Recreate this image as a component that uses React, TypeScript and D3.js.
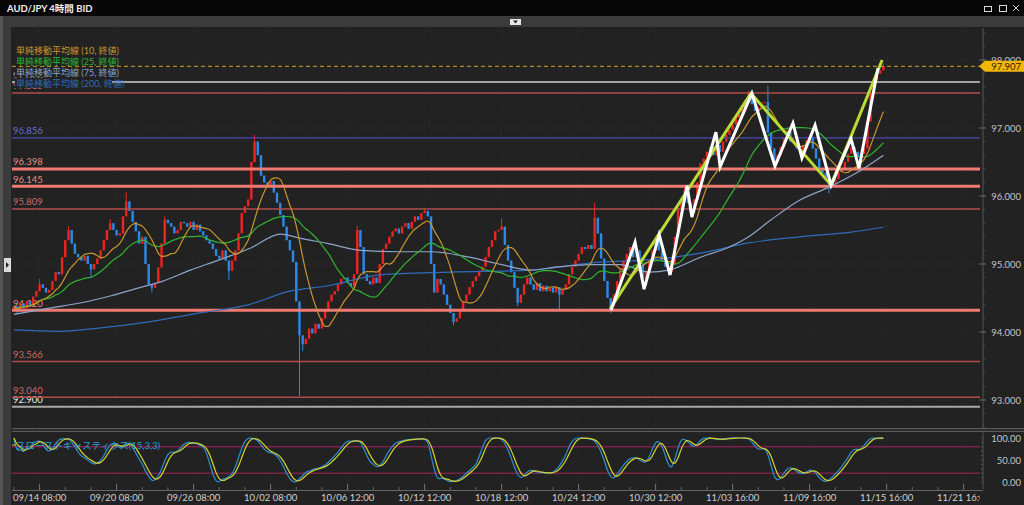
import React from 'react';
import * as d3 from 'd3';

// ---------- DATA ----------
const firstOpen = 94.33;
const closes: number[] = [
  94.38, 94.30, 94.42, 94.35, 94.45, 94.40, 94.52, 94.60, 94.70, 94.65,
  94.58, 94.62, 94.75, 94.88, 94.85, 95.10, 95.35, 95.50, 95.30, 95.15,
  95.10, 95.05, 95.12, 95.00, 94.92, 95.00, 95.08, 95.20, 95.35, 95.50,
  95.60, 95.50, 95.42, 95.45, 95.70, 95.92, 95.78, 95.62, 95.48, 95.30,
  95.40, 95.00, 94.70, 94.65, 94.72, 94.95, 95.30, 95.65, 95.60, 95.55,
  95.45, 95.50, 95.62, 95.60, 95.55, 95.62, 95.50, 95.58, 95.48, 95.42,
  95.35, 95.30, 95.22, 95.12, 95.08, 95.20, 95.05, 94.90, 95.05, 95.20,
  95.45, 95.75, 95.85, 95.95, 96.50, 96.80, 96.60, 96.30, 96.20, 96.15,
  96.22, 96.05, 95.90, 95.72, 95.55, 95.35, 95.20, 95.03, 94.45, 93.95,
  93.82, 93.90, 94.05, 93.98, 94.12, 94.05, 94.20, 94.32, 94.45, 94.55,
  94.60, 94.70, 94.78, 94.80, 94.72, 94.67, 94.85, 95.50, 95.25, 94.85,
  94.75, 94.70, 94.80, 94.72, 95.00, 95.22, 95.30, 95.40, 95.48, 95.52,
  95.45, 95.55, 95.60, 95.52, 95.62, 95.70, 95.65, 95.75, 95.78, 95.70,
  95.00, 94.58, 94.78, 94.70, 94.55, 94.40, 94.28, 94.15, 94.20, 94.32,
  94.45, 94.55, 94.66, 94.75, 94.82, 94.90, 94.96, 95.10, 95.25, 95.35,
  95.48, 95.50, 95.55, 95.28, 95.05, 94.88, 94.65, 94.43, 94.55, 94.70,
  94.80, 94.70, 94.62, 94.72, 94.60, 94.68, 94.60, 94.65, 94.58, 94.66,
  94.55, 94.62, 94.70, 94.85, 94.96, 95.05, 95.15, 95.25, 95.22, 95.28,
  95.22, 95.68, 95.45, 95.08, 94.75, 94.50, 94.38, 94.55, 94.75, 94.92,
  95.05, 95.15, 95.25, 95.10, 95.20, 95.00, 94.78, 94.90, 95.05, 95.20,
  95.35, 95.20, 95.05, 94.96, 94.88, 95.00, 95.40, 95.82, 95.95, 96.08,
  95.90, 95.75, 95.95, 96.20, 96.48, 96.55, 96.65, 96.72, 96.60, 96.75,
  96.65, 96.80, 96.90, 96.97, 97.05, 97.15, 97.22, 97.30, 97.40, 97.50,
  97.35, 97.25, 97.30, 97.37, 97.38, 96.93, 96.70, 96.50, 96.60, 96.72,
  96.85, 96.95, 96.80, 96.78, 96.70, 96.68, 96.75, 96.82, 96.87, 96.70,
  96.55, 96.40, 96.34, 96.25, 96.18, 96.20, 96.25, 96.35, 96.40, 96.50,
  96.62, 96.72, 96.65, 96.58, 96.62, 96.70, 97.10, 97.50, 97.70, 97.80,
  97.85, 97.907,
];
const wickHighs: [number, number][] = [
  [8, 94.78], [17, 95.56], [30, 95.66], [35, 96.05], [47, 95.70], [75, 96.90],
  [107, 95.56], [128, 95.82], [152, 95.67], [181, 95.90], [207, 95.88],
  [209, 96.14], [229, 97.55], [235, 97.62], [241, 97.0], [271, 97.95],
];
const wickLows: [number, number][] = [
  [1, 94.26], [24, 94.80], [43, 94.58], [67, 94.76], [89, 93.06], [90, 93.72],
  [137, 94.10], [157, 94.38], [170, 94.32], [186, 94.28], [204, 94.82],
  [254, 96.04],
];
const sma75Pts: [number, number][] = [
  [0, 94.26], [11, 94.35], [21, 94.43], [30, 94.53], [39, 94.65], [46, 94.74],
  [55, 94.91], [64, 95.06], [74, 95.24], [83, 95.44], [89, 95.38], [98, 95.30],
  [108, 95.20], [120, 95.18], [130, 95.18], [142, 95.10], [152, 94.99],
  [161, 94.91], [170, 94.96], [180, 94.99], [189, 94.99], [198, 94.88],
  [204, 94.91], [214, 95.10], [223, 95.25], [229, 95.40], [236, 95.65],
  [245, 95.94], [254, 96.13], [264, 96.38], [271, 96.60],
];
const sma200Pts: [number, number][] = [
  [0, 94.03], [14, 94.01], [27, 94.06], [42, 94.15], [58, 94.28], [73, 94.40],
  [86, 94.60], [98, 94.68], [114, 94.84], [136, 94.88], [161, 94.91],
  [183, 95.03], [198, 95.06], [214, 95.16], [229, 95.31], [245, 95.40],
  [261, 95.47], [271, 95.54],
];
const levelValues = [97.676, 97.515, 96.856, 96.398, 96.145, 95.809, 94.320, 93.566, 93.040, 92.900];
const levelKinds = ['grey', 'red', 'blue', 'thick', 'thick', 'red', 'thick', 'red', 'red', 'white'];
const currentPrice = 97.907;
const priceTicks = [93, 94, 95, 96, 97, 98];
const stochTicks = [0, 50, 100];
const stochBands = [20, 80];
const xTickLabels = [
  '09/14 08:00', '09/20 08:00', '09/26 08:00', '10/02 08:00', '10/06 12:00',
  '10/12 12:00', '10/18 12:00', '10/24 12:00', '10/30 12:00', '11/03 16:00',
  '11/09 16:00', '11/15 16:00', '11/21 16:00',
];
const firstLabelIndex = 8;
const candlesPerLabel = 24;
const legendLabels = [
  '単純移動平均線 (10, 終値)',
  '単純移動平均線 (25, 終値)',
  '単純移動平均線 (75, 終値)',
  '単純移動平均線 (200, 終値)',
];
const stochLegend = 'スローストキャスティクス(15,3,3)';
const title = 'AUD/JPY 4時間 BID';
const zigzag: [number, number][] = [
  [186.1, 94.32], [193.6, 95.32], [196.4, 94.63], [201.1, 95.43], [204.5, 94.84],
  [209.8, 96.15], [211.3, 95.69], [218.8, 96.94], [220.1, 96.43], [230.0, 97.51],
  [237.2, 96.44], [242.8, 97.07], [245.6, 96.56], [249.7, 97.04], [254.7, 96.16],
  [260.9, 96.84], [263.4, 96.41], [269.3, 97.88],
];
const trendLine: [number, number][] = [
  [185.8, 94.34], [229.7, 97.51], [254.7, 96.16], [270.6, 98.0],
];

// ---------- LAYOUT / STYLE ----------
const W = 1024, H = 505;
const PL = 12, PR = 980, PT = 28, PB = 428;
const ST = 432, SB = 489;
const AXX = 983;
const FONT = "Lato, 'Noto Sans CJK JP', sans-serif";
const BG = '#222222';
const UP = '#ec2420';
const DOWN = '#2c8ae6';
const maColors = ['#c8962e', '#2fb52f', '#8ea5c8', '#2f6cba'];
const levelStyle: Record<string, { stroke: string; width: number; label: string }> = {
  grey: { stroke: '#a3a3a3', width: 2, label: '#b0b0b0' },
  red: { stroke: '#b24c4c', width: 1.5, label: '#d06a66' },
  blue: { stroke: '#4a4ab4', width: 1.2, label: '#6a6ad6' },
  thick: { stroke: '#ef7a72', width: 3, label: '#f08a80' },
  white: { stroke: '#a8a8a8', width: 2, label: '#e8e8e8' },
};

function sma(arr: number[], n: number) {
  return arr.map((_, i) => d3.mean(arr.slice(Math.max(0, i - n + 1), i + 1)) as number);
}

export default function App() {
  const x = d3.scaleLinear().domain([-0.6, 301.1]).range([PL, PR]);
  const y = d3.scaleLinear().domain([93, 98]).range([400, 60]);
  const ys = d3.scaleLinear().domain([0, 100]).range([482, 438]);

  const hiMap = new Map(wickHighs);
  const loMap = new Map(wickLows);
  const candles = closes.map((c, i) => {
    const o = i === 0 ? firstOpen : closes[i - 1];
    const hi = Math.max(o, c, hiMap.get(i) ?? -Infinity);
    const lo = Math.min(o, c, loMap.get(i) ?? Infinity);
    return { i, o, c, hi, lo };
  });

  const sma10 = sma(closes, 10);
  const sma25 = sma(closes, 25);

  // slow stochastic 15,3,3
  const fastK = candles.map((d, i) => {
    const w = candles.slice(Math.max(0, i - 14), i + 1);
    const hh = d3.max(w, (e) => e.hi) as number;
    const ll = d3.min(w, (e) => e.lo) as number;
    return hh === ll ? 50 : ((d.c - ll) / (hh - ll)) * 100;
  });
  const slowK = sma(fastK, 3);
  const slowD = sma(slowK, 3);

  const lineIdx = d3.line<number>().x((_, i) => x(i)).y((v) => y(v)).curve(d3.curveMonotoneX);
  const linePts = d3.line<[number, number]>().x((d) => x(d[0])).y((d) => y(d[1]));
  const curvePts = d3.line<[number, number]>().x((d) => x(d[0])).y((d) => y(d[1])).curve(d3.curveMonotoneX);
  const stochLine = d3.line<number>().x((_, i) => x(i)).y((v) => ys(v)).curve(d3.curveBasis);

  const priceMinor = d3.range(92.6, 98.5, 0.2);
  const majorIdx = xTickLabels.map((_, k) => firstLabelIndex + k * candlesPerLabel);
  const minorIdx = d3.range(firstLabelIndex - 8, 300, 8).filter((v) => (v - firstLabelIndex) % candlesPerLabel !== 0);
  const bw = 2.4;

  return (
    <svg width={W} height={H} style={{ position: 'absolute', left: 0, top: 0, display: 'block' }} fontFamily={FONT}>
      <defs>
        <clipPath id="mainClip"><rect x={PL} y={PT} width={PR - PL} height={PB - PT} /></clipPath>
        <clipPath id="stClip"><rect x={PL} y={ST} width={PR - PL} height={SB - ST} /></clipPath>
        <clipPath id="axClip"><rect x={PL} y={490} width={PR - PL} height={15} /></clipPath>
      </defs>
      {/* frame */}
      <rect x={0} y={0} width={W} height={H} fill={BG} />
      <rect x={0} y={0} width={W} height={16} fill="#060606" />
      <text x={7} y={11.5} fill="#f0f0f0" fontSize={9.5} fontWeight="bold">{title}</text>
      <g stroke="#d8d8d8" fill="none" strokeWidth={1}>
        <rect x={984.5} y={6.5} width={7} height={5} />
        <rect x={999.5} y={5.5} width={7} height={6} />
        <line x1={1013} y1={5} x2={1019} y2={11} />
        <line x1={1019} y1={5} x2={1013} y2={11} />
      </g>
      <rect x={0} y={16} width={W} height={11} fill="#3b3b3b" />
      <rect x={0} y={16} width={11} height={H - 16} fill="#3b3b3b" />
      <rect x={0} y={16} width={3} height={H - 16} fill="#555" />
      <rect x={510} y={19} width={11} height={6} fill="#e6e6e6" />
      <path d="M513,20.5 L518,20.5 L515.5,23.5 Z" fill="#222" />
      <rect x={4} y={258} width={7} height={14} fill="#dcdcdc" />
      <path d="M6,262 L9,265 L6,268 Z" fill="#222" />

      {/* grid */}
      <g stroke="#2f2f2f" strokeDasharray="1,2">
        {majorIdx.map((v) => (
          <line key={'gv' + v} x1={x(v)} x2={x(v)} y1={PT} y2={PB} />
        ))}
        {majorIdx.map((v) => (
          <line key={'gs' + v} x1={x(v)} x2={x(v)} y1={ST} y2={SB} />
        ))}
        {priceTicks.map((p) => (
          <line key={'gh' + p} x1={PL} x2={PR} y1={y(p)} y2={y(p)} />
        ))}
      </g>

      {/* level labels (under candles) */}
      <g fontSize={9.5}>
        {levelValues.map((v, k) => (
          <text key={'ll' + k} x={PL + 1} y={y(v) - 3.5} fill={levelStyle[levelKinds[k]].label}>
            {v.toFixed(3)}
          </text>
        ))}
      </g>

      <g clipPath="url(#mainClip)">
        {/* candles */}
        {candles.map((d) => {
          const col = d.c >= d.o ? UP : DOWN;
          const top = y(Math.max(d.o, d.c));
          const bot = y(Math.min(d.o, d.c));
          return (
            <g key={'c' + d.i}>
              <line x1={x(d.i)} x2={x(d.i)} y1={y(d.hi)} y2={y(d.lo)} stroke={col} strokeWidth={1} />
              <rect x={x(d.i) - bw / 2} y={top} width={bw} height={Math.max(1, bot - top)} fill={col} />
            </g>
          );
        })}
        {/* level lines */}
        {levelValues.map((v, k) => {
          const s = levelStyle[levelKinds[k]];
          return <line key={'lv' + k} x1={PL} x2={PR} y1={y(v)} y2={y(v)} stroke={s.stroke} strokeWidth={s.width} />;
        })}
        <line x1={PL} x2={PR} y1={y(currentPrice)} y2={y(currentPrice)} stroke="#d9a21e" strokeWidth={1} strokeDasharray="4,3" />
        {/* moving averages */}
        <path d={curvePts(sma200Pts) || ''} fill="none" stroke={maColors[3]} strokeWidth={1.2} />
        <path d={curvePts(sma75Pts) || ''} fill="none" stroke={maColors[2]} strokeWidth={1.2} />
        <path d={lineIdx(sma25) || ''} fill="none" stroke={maColors[1]} strokeWidth={1.2} />
        <path d={lineIdx(sma10) || ''} fill="none" stroke={maColors[0]} strokeWidth={1.2} />
        {/* drawings */}
        <path d={linePts(trendLine) || ''} fill="none" stroke="#b9dc34" strokeWidth={3} strokeLinejoin="round" />
        <path d={linePts(zigzag) || ''} fill="none" stroke="#ffffff" strokeWidth={3} strokeLinejoin="miter" />
      </g>

      {/* legend */}
      <g fontSize={9}>
        {legendLabels.map((t, k) => (
          <g key={'lg' + k}>
            <rect x={15} y={45 + k * 11} width={k === 3 ? 97 : 93} height={10} fill={BG} />
            <text x={16} y={53.5 + k * 11} fill={maColors[k]}>{t}</text>
          </g>
        ))}
      </g>

      {/* right price axis */}
      <line x1={AXX} x2={AXX} y1={PT} y2={PB} stroke="#555" />
      {priceMinor.map((p, k) => (
        <line key={'pm' + k} x1={AXX} x2={AXX + 2} y1={y(p)} y2={y(p)} stroke="#555" />
      ))}
      {priceTicks.map((p) => (
        <g key={'pt' + p}>
          <line x1={AXX - 4} x2={AXX + 3} y1={y(p)} y2={y(p)} stroke="#666" />
          <text x={1021} y={y(p) + 3.5} fill="#c4c4c4" fontSize={9.5} textAnchor="end">{p.toFixed(3)}</text>
        </g>
      ))}
      <path
        d={`M${AXX - 4},${y(currentPrice)} L${AXX + 2},${y(currentPrice) - 5.5} L${W},${y(currentPrice) - 5.5} L${W},${y(currentPrice) + 5.5} L${AXX + 2},${y(currentPrice) + 5.5} Z`}
        fill="#f2b705"
      />
      <text x={1021} y={y(currentPrice) + 3.5} fill="#2a2000" fontSize={9.5} textAnchor="end">{currentPrice.toFixed(3)}</text>

      {/* panel separator */}
      <rect x={PL} y={PB} width={W - PL} height={4} fill="#2c2c2c" />
      <line x1={PL} x2={W} y1={PB + 0.5} y2={PB + 0.5} stroke="#5a5a5a" />
      <line x1={PL} x2={W} y1={ST - 0.5} y2={ST - 0.5} stroke="#5a5a5a" />

      {/* stochastic */}
      <g clipPath="url(#stClip)">
        {stochBands.map((b) => (
          <line key={'sb' + b} x1={PL} x2={PR} y1={ys(b)} y2={ys(b)} stroke="#a8205e" strokeWidth={1} />
        ))}
        <path d={stochLine(slowK) || ''} fill="none" stroke="#2a90d6" strokeWidth={1.2} />
        <path d={stochLine(slowD) || ''} fill="none" stroke="#d8d42c" strokeWidth={1.2} />
      </g>
      <line x1={12} x2={16} y1={445} y2={445} stroke="#c8c840" />
      <text x={16} y={448.5} fill="#2aa0d8" fontSize={9.5}>{stochLegend}</text>
      <line x1={AXX} x2={AXX} y1={ST} y2={SB} stroke="#555" />
      {d3.range(0, 101, 10).map((v) => (
        <line key={'sm' + v} x1={AXX - 2} x2={AXX} y1={ys(v)} y2={ys(v)} stroke="#555" />
      ))}
      {stochTicks.map((v) => (
        <text key={'st' + v} x={1021} y={ys(v) + 3.5} fill="#c4c4c4" fontSize={9.5} textAnchor="end">{v.toFixed(2)}</text>
      ))}

      {/* time axis */}
      <line x1={PL} x2={AXX} y1={490.5} y2={490.5} stroke="#666" />
      {minorIdx.map((v) => (
        <line key={'tm' + v} x1={x(v)} x2={x(v)} y1={487} y2={490} stroke="#666" />
      ))}
      {majorIdx.map((v) => (
        <line key={'tj' + v} x1={x(v)} x2={x(v)} y1={484} y2={490} stroke="#777" />
      ))}
      <g clipPath="url(#axClip)">
        {xTickLabels.map((t, k) => (
          <text key={'xl' + k} x={x(majorIdx[k])} y={501} fill="#d0d0d0" fontSize={9.5} textAnchor="middle">{t}</text>
        ))}
      </g>
    </svg>
  );
}
